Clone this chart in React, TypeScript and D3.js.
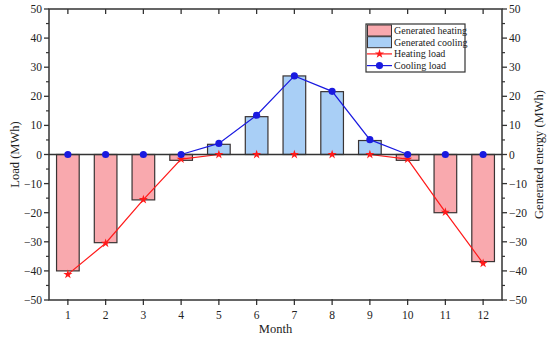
import React from 'react';
import * as d3 from 'd3';

const months = [1, 2, 3, 4, 5, 6, 7, 8, 9, 10, 11, 12];
const generatedHeating = [-40, -30.3, -15.6, -2, 0, 0, 0, 0, 0, -2, -20, -36.8];
const generatedCooling = [0, 0, 0, 0, 3.5, 13, 27, 21.6, 4.8, 0, 0, 0];
const heatingLoad = [-41.2, -30.5, -15.5, -1.6, 0, 0, 0, 0, 0, -1.6, -19.8, -37.4];
const coolingLoad = [0, 0, 0, 0, 3.8, 13.5, 27, 21.7, 5.1, 0, 0, 0];
const yTicks = [-50, -40, -30, -20, -10, 0, 10, 20, 30, 40, 50];
const yMinorTicks = [-45, -35, -25, -15, -5, 5, 15, 25, 35, 45];

const legendItems = [
  { label: 'Generated heating', type: 'bar', color: '#f9a9ae' },
  { label: 'Generated cooling', type: 'bar', color: '#a9cff6' },
  { label: 'Heating load', type: 'star', color: '#ff1a1a' },
  { label: 'Cooling load', type: 'circle', color: '#1a1ae0' },
];

const App = () => {
  const Width = 550;
  const Height = 338;
  const left = 49;
  const right = 502;
  const top = 9;
  const bottom = 300;
  const font = "'Liberation Serif', 'Times New Roman', serif";
  const axisColor = '#333';

  const xScale = d3.scaleLinear().domain([0.5, 12.5]).range([left, right]);
  const yScale = d3.scaleLinear().domain([-50, 50]).range([bottom, top]);
  const barWidth = (xScale(2) - xScale(1)) * 0.6;

  const loadLine = d3.line<number>().x((d, i) => xScale(months[i])).y((d) => yScale(d));
  const star = d3.symbol().type(d3.symbolStar).size(26)();
  const circle = d3.symbol().type(d3.symbolCircle).size(40)();

  const bars = (vals: number[], color: string) =>
    vals.map((v, i) =>
      v === 0 ? null : (
        <rect
          key={i}
          x={xScale(months[i]) - barWidth / 2}
          y={Math.min(yScale(v), yScale(0))}
          width={barWidth}
          height={Math.abs(yScale(v) - yScale(0))}
          fill={color}
          stroke="#3a3434"
          strokeWidth={1.2}
        />
      )
    );

  return (
    <svg width={Width} height={Height} style={{ position: 'absolute', left: 0, top: 0, background: '#fff' }}>
      <g style={{ fontFamily: font }}>
        {bars(generatedHeating, legendItems[0].color)}
        {bars(generatedCooling, legendItems[1].color)}

        <path d={loadLine(heatingLoad) || ''} fill="none" stroke={legendItems[2].color} strokeWidth={1.2} />
        <path d={loadLine(coolingLoad) || ''} fill="none" stroke={legendItems[3].color} strokeWidth={1.2} />

        <line x1={left} x2={right} y1={yScale(0)} y2={yScale(0)} stroke={axisColor} strokeWidth={1.3} />

        {heatingLoad.map((v, i) => (
          <path key={i} d={star || ''} transform={`translate(${xScale(months[i])},${yScale(v)})`} fill={legendItems[2].color} />
        ))}
        {coolingLoad.map((v, i) => (
          <path key={i} d={circle || ''} transform={`translate(${xScale(months[i])},${yScale(v)})`} fill={legendItems[3].color} />
        ))}

        {/* frame */}
        <rect x={left} y={top} width={right - left} height={bottom - top} fill="none" stroke={axisColor} strokeWidth={1.5} />

        {/* x ticks */}
        {months.map((m) => (
          <g key={m}>
            <line x1={xScale(m)} x2={xScale(m)} y1={bottom - 1} y2={bottom + 5} stroke={axisColor} strokeWidth={1.3} />
            <line x1={xScale(m)} x2={xScale(m)} y1={top} y2={top + 5} stroke={axisColor} strokeWidth={1.3} />
            <text x={xScale(m)} y={bottom + 19} textAnchor="middle" style={{ fontSize: '11.5px' }} fill="#222">
              {m}
            </text>
          </g>
        ))}

        {/* y ticks */}
        {yTicks.map((t) => (
          <g key={t}>
            <line x1={left - 5} x2={left} y1={yScale(t)} y2={yScale(t)} stroke={axisColor} strokeWidth={1.3} />
            <line x1={right} x2={right + 5} y1={yScale(t)} y2={yScale(t)} stroke={axisColor} strokeWidth={1.3} />
            <text x={left - 7} y={yScale(t)} textAnchor="end" dominantBaseline="central" style={{ fontSize: '11.5px' }} fill="#222">
              {t < 0 ? `\u2212${-t}` : t}
            </text>
            <text x={right + 7} y={yScale(t)} textAnchor="start" dominantBaseline="central" style={{ fontSize: '11.5px' }} fill="#222">
              {t < 0 ? `\u2212${-t}` : t}
            </text>
          </g>
        ))}
        {yMinorTicks.map((t) => (
          <g key={t}>
            <line x1={left - 3} x2={left} y1={yScale(t)} y2={yScale(t)} stroke={axisColor} strokeWidth={1.2} />
            <line x1={right} x2={right + 3} y1={yScale(t)} y2={yScale(t)} stroke={axisColor} strokeWidth={1.2} />
          </g>
        ))}

        {/* axis titles */}
        <text transform={`translate(15, ${yScale(0)}) rotate(-90)`} textAnchor="middle" dominantBaseline="central" style={{ fontSize: '12.5px' }} fill="#222">
          Load (MWh)
        </text>
        <text transform={`translate(539, ${yScale(0)}) rotate(-90)`} textAnchor="middle" dominantBaseline="central" style={{ fontSize: '12.5px' }} fill="#222">
          Generated energy (MWh)
        </text>
        <text x={(left + right) / 2} y={333} textAnchor="middle" style={{ fontSize: '12.5px' }} fill="#222">
          Month
        </text>

        {/* legend */}
        <g transform="translate(366, 24)">
          <rect x={0} y={0} width={99} height={48} fill="#fff" stroke={axisColor} strokeWidth={1.2} />
          {legendItems.map((d, i) => {
            const cy = 6.5 + i * 11.7;
            return (
              <g key={i}>
                {d.type === 'bar' ? (
                  <rect x={1.5} y={cy - 5.5} width={24} height={11} fill={d.color} stroke="#3a3434" strokeWidth={1} />
                ) : (
                  <g>
                    <line x1={1} x2={26} y1={cy} y2={cy} stroke={d.color} strokeWidth={1.2} />
                    <path d={(d.type === 'star' ? star : circle) || ''} transform={`translate(13.5,${cy})`} fill={d.color} />
                  </g>
                )}
                <text x={28} y={cy} dominantBaseline="central" style={{ fontSize: '10px' }} fill="#222">
                  {d.label}
                </text>
              </g>
            );
          })}
        </g>
      </g>
    </svg>
  );
};

export default App;
